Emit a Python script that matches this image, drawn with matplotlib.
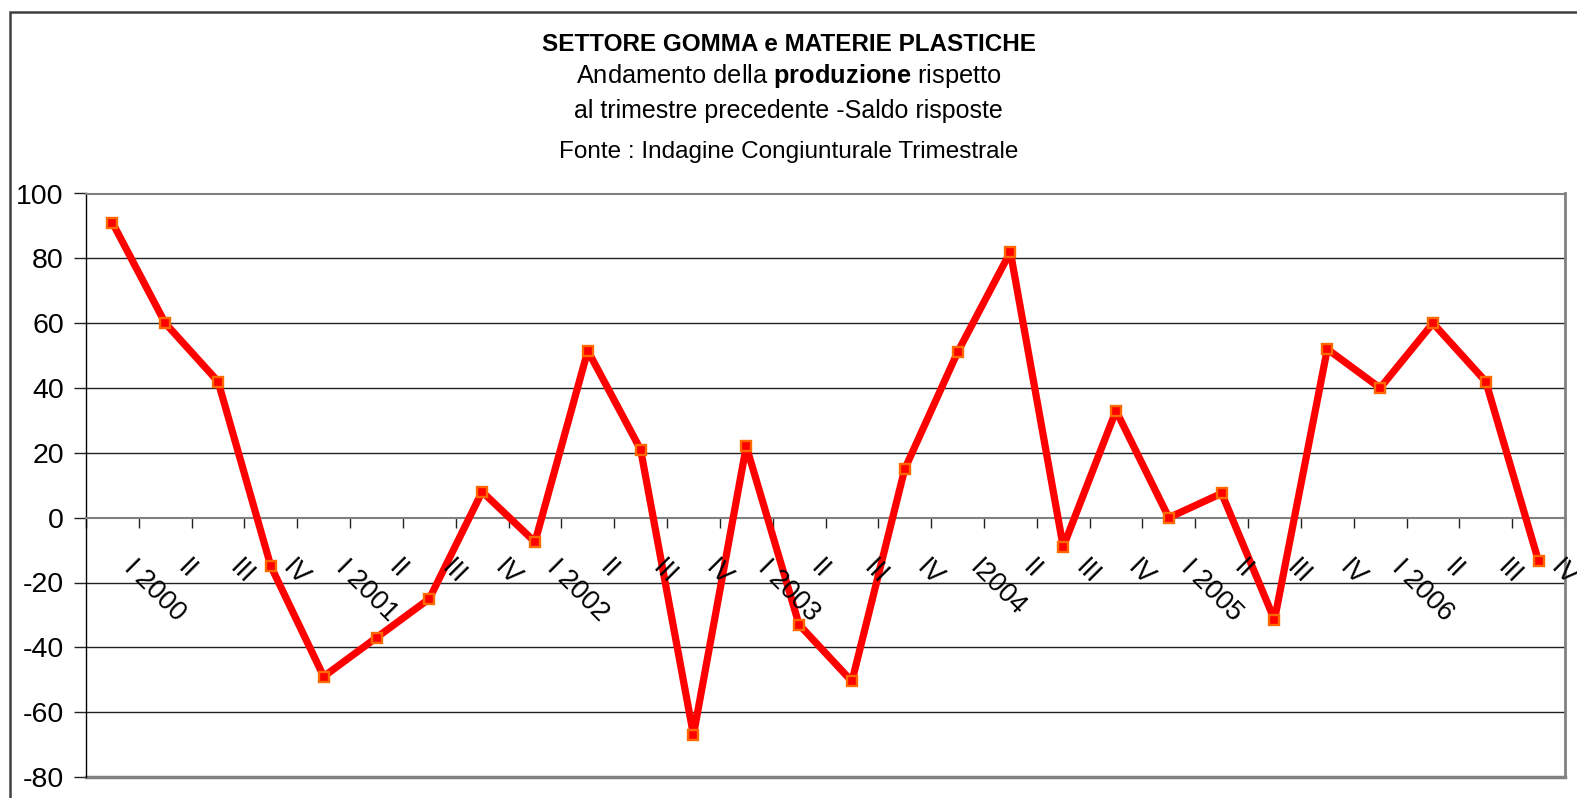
import matplotlib.pyplot as plt
import matplotlib.patches as patches
from matplotlib.transforms import ScaledTranslation

plt.rcParams["font.family"] = ["Liberation Sans", "DejaVu Sans"]
plt.rcParams["mathtext.fontset"] = "custom"
plt.rcParams["mathtext.rm"] = "Liberation Sans"
plt.rcParams["mathtext.bf"] = "Liberation Sans:bold"

# trimestri 2000-2006
quarter_labels = [
    "I 2000", "II", "III", "IV",
    "I 2001", "II", "III", "IV",
    "I 2002", "II", "III", "IV",
    "I 2003", "II", "III", "IV",
    "I2004", "II", "III", "IV",
    "I 2005", "II", "III", "IV",
    "I 2006", "II", "III", "IV",
]
saldo = [
    91, 60, 42, -15,
    -49, -37, -25, 8,
    -7.5, 51.5, 21, -67,
    22, -33, -50.5, 15,
    51, 82, -9, 33,
    0, 7.5, -31.5, 52,
    40, 60, 42, -13.5,
]
y_ticks = [-80, -60, -40, -20, 0, 20, 40, 60, 80, 100]

W, H = 1577, 798
fig = plt.figure(figsize=(W / 100, H / 100), dpi=100)
ax = fig.add_axes([86 / W, 1 - 777 / H, (1565 - 86) / W, (777 - 193.5) / H])

n = len(saldo)
x = list(range(n))
ax.set_xlim(-0.5, n - 0.5)
ax.set_ylim(y_ticks[0], y_ticks[-1])

# griglia orizzontale
for yv in y_ticks[1:-1]:
    if yv != 0:
        ax.axhline(yv, color="#222222", lw=1.0, zorder=1)

ax.plot(x, saldo, color="#ff0000", lw=5.2, marker="s", markersize=7.5,
        markerfacecolor="#ff0000", markeredgecolor="#ff6a00",
        markeredgewidth=1.7, zorder=3, solid_joinstyle="round")

# asse x sullo zero
ax.spines["bottom"].set_position(("data", 0))
ax.spines["bottom"].set_color("#808080")
ax.spines["bottom"].set_linewidth(1.5)
ax.spines["top"].set_color("#808080")
ax.spines["top"].set_linewidth(1.5)
ax.spines["right"].set_color("#808080")
ax.spines["right"].set_linewidth(2)
ax.spines["left"].set_color("#000000")
ax.spines["left"].set_linewidth(1.0)
ax.axhline(y_ticks[0], color="#808080", lw=2.5, zorder=2, clip_on=False)

ax.set_xticks([i - 0.5 for i in range(n + 1)])
ax.set_xticklabels([])
ax.tick_params(axis="x", direction="out", length=7, width=1, color="#222222")
ax.set_yticks(y_ticks)
ax.set_yticklabels([str(v) for v in y_ticks], fontsize=20.5)
ax.tick_params(axis="y", direction="out", length=9, width=1, pad=7,
               color="#222222")

# etichette ruotate
off = ScaledTranslation(25 / 100, -37 / 100, fig.dpi_scale_trans)
for i, lab in enumerate(quarter_labels):
    ax.text(i, 0, lab, transform=ax.transData + off, rotation=-45,
            rotation_mode="anchor", ha="left", va="top", fontsize=19.5,
            color="black", zorder=4)

# titolo
cx = 0.5
fig.text(cx, 1 - 50.7 / H, "SETTORE GOMMA e MATERIE PLASTICHE",
         ha="center", va="baseline", fontsize=17.5, fontweight="bold")
fig.text(cx, 1 - 83.3 / H, r"Andamento della $\mathbf{produzione}$ rispetto",
         ha="center", va="baseline", fontsize=18.3)
fig.text(cx, 1 - 118.3 / H, "al trimestre precedente -Saldo risposte",
         ha="center", va="baseline", fontsize=18)
fig.text(cx, 1 - 158.3 / H, "Fonte : Indagine Congiunturale Trimestrale",
         ha="center", va="baseline", fontsize=17.5)

# cornice esterna
fig.patches.append(patches.Rectangle((9.5 / W, -0.05), 1.1, 1 - 12 / H + 0.05,
                                     transform=fig.transFigure, fill=False,
                                     edgecolor="#404040", lw=1.8))

fig.savefig("out.png", dpi=100, facecolor="white")
